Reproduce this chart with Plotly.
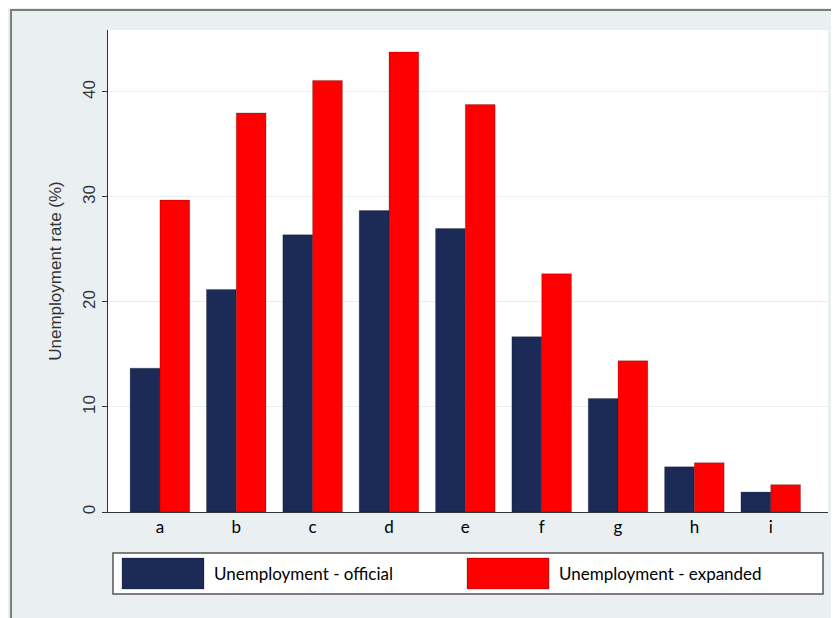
import plotly.graph_objects as go

groups = ['a', 'b', 'c', 'd', 'e', 'f', 'g', 'h', 'i']
official = [13.7, 21.2, 26.4, 28.7, 27.0, 16.7, 10.8, 4.3, 1.9]
expanded = [29.7, 38.0, 41.1, 43.8, 38.8, 22.7, 14.4, 4.7, 2.6]
names = ['Unemployment - official', 'Unemployment - expanded']
colors = ['#1b2a57', '#ff0000']

# page has an 8px body margin, so the figure starts at (8, 8)
OFF = 8
W, H = 839 - OFF, 618 - OFF
L, R, T, B = 100, 11, 22, 106
pw, ph = W - L - R, H - T - B


# page pixel -> paper coords, for the frame and the legend box
def px(x):
    return (x - OFF - L) / pw


def py(y):
    return (H - B - (y - OFF)) / ph


fig = go.Figure()
for name, vals, col in zip(names, [official, expanded], colors):
    fig.add_trace(go.Bar(x=groups, y=vals, name=name, marker_color=col,
                         marker_line=dict(color='rgba(0,0,0,0.35)', width=0.6),
                         showlegend=False))

shapes = [
    # outer frame
    dict(type='rect', xref='paper', yref='paper', x0=px(11), y0=py(660), x1=px(880), y1=py(10),
         line=dict(color='#7d7d7d', width=2), fillcolor='rgba(0,0,0,0)', layer='below'),
    # legend box
    dict(type='rect', xref='paper', yref='paper', x0=px(113), y0=py(594), x1=px(823), y1=py(553),
         line=dict(color='#555555', width=1.5), fillcolor='white'),
]
annotations = []
sw_x = [122, 467]
for (x0, name, col) in zip(sw_x, names, colors):
    shapes.append(dict(type='rect', xref='paper', yref='paper', x0=px(x0), x1=px(x0 + 82),
                       y0=py(589), y1=py(558), line=dict(color='rgba(0,0,0,0.3)', width=0.8),
                       fillcolor=col))
    annotations.append(dict(x=px(x0 + 90), y=py(573.5), xref='paper', yref='paper', text=name,
                            showarrow=False, xanchor='left', yanchor='middle',
                            font=dict(family='Lato', size=17, color='black')))

fig.update_layout(
    width=W, height=H,
    margin=dict(l=L, r=R, t=T, b=B),
    paper_bgcolor='#eaf0f2',
    plot_bgcolor='white',
    barmode='group', bargap=0.22, bargroupgap=0,
    shapes=shapes, annotations=annotations,
    xaxis=dict(range=[-0.68, 8.75], showline=True, linecolor='#333333', linewidth=1,
               ticks='', showgrid=False, tickfont=dict(family='Lato', size=17, color='black'),
               fixedrange=True),
    yaxis=dict(range=[0, 45.9], tickvals=[0, 10, 20, 30, 40], tickangle=-90,
               showline=True, linecolor='#333333', linewidth=1, ticks='outside', ticklen=5,
               tickcolor='#333333', gridcolor='#e6eef0', gridwidth=1, zeroline=False,
               tickfont=dict(family='Liberation Sans', size=17, color='#333333'),
               title=dict(text='Unemployment rate (%)', standoff=14,
                          font=dict(family='Liberation Sans', size=17, color='#333333'))),
    showlegend=False,
)

fig.write_html("out.html")
